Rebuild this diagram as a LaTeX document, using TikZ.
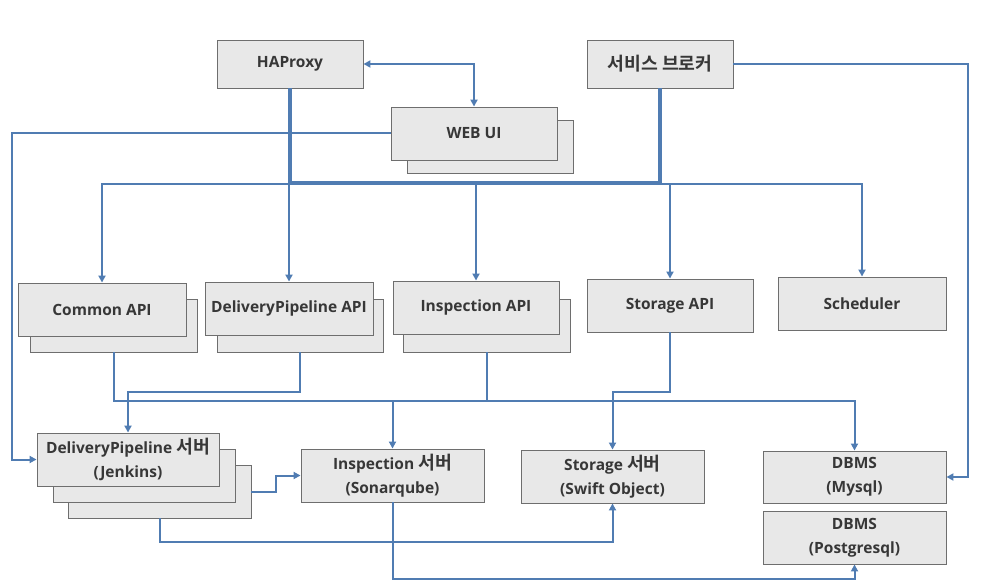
\documentclass[tikz,border=0pt]{standalone}
\usepackage{fontspec}
\setmainfont{Open Sans}
\newfontfamily\kr{Noto Sans CJK KR}[Scale=1.18, BoldFont={Noto Sans CJK KR Bold}]
\usetikzlibrary{arrows.meta}
\definecolor{lineblue}{RGB}{80,124,178}
\definecolor{boxgray}{RGB}{232,232,232}
\definecolor{edgegray}{RGB}{110,110,110}
\definecolor{textgray}{RGB}{55,55,55}

\begin{document}
\begin{tikzpicture}[x=1pt, y=-1pt]
\tikzstyle{every node} = [rectangle, draw=edgegray, fill=boxgray, line width=0.9pt, inner sep=0pt, minimum height=53pt, text=textgray, font=\fontsize{15.5}{24}\selectfont\bfseries, align=center]
\tikzstyle{link} = [draw=lineblue, line width=2pt, -{Triangle[length=7pt,width=7pt]}]
\tikzstyle{trunk} = [draw=lineblue, line width=3.8pt]
\useasboundingbox (0,0) rectangle (986,583);
% top row
\node[minimum width=146pt, minimum height=48pt] (hap) at (290,64) {HAProxy};
\node[minimum width=146pt, minimum height=48pt] (brk) at (660,64) {{\kr 서비스 브로커}};
\node[minimum width=166pt] (webB) at (490,146.5) {};
\node[minimum width=166pt] (web) at (474,133.5) {WEB UI};
% api row
\node[minimum width=167pt] (comB) at (113.5,325.5) {};
\node[minimum width=168pt] (com) at (102,309.5) {Common API};
\node[minimum width=166pt] (dpaB) at (300,325.5) {};
\node[minimum width=168pt] (dpa) at (289,308.5) {DeliveryPipeline API};
\node[minimum width=167pt] (insaB) at (486.5,325.5) {};
\node[minimum width=166pt] (insa) at (476,307.5) {Inspection API};
\node[minimum width=166pt] (sto) at (670,305.5) {Storage API};
\node[minimum width=168pt] (sch) at (862,303.5) {Scheduler};
% server row
\node[minimum width=183pt] (dpsC) at (159.5,491.5) {};
\node[minimum width=182pt] (dpsB) at (144,475.5) {};
\node[minimum width=182pt] (dps) at (128,459.5) {DeliveryPipeline {\kr 서버}\\(Jenkins)};
\node[minimum width=183pt] (ins) at (392.5,475.5) {Inspection {\kr 서버}\\(Sonarqube)};
\node[minimum width=183pt] (sts) at (612.5,476.5) {Storage {\kr 서버}\\(Swift Object)};
\node[minimum width=183pt, minimum height=52pt] (mys) at (854.5,477) {DBMS\\(Mysql)};
\node[minimum width=183pt] (pg) at (854.5,537.5) {DBMS\\(Postgresql)};
% bus
\coordinate (busL) at (290,183);
\coordinate (busR) at (660,183);
\coordinate (bus) at (476,184);
\coordinate (lft) at (12,133.5);
\coordinate (rgt) at (968,64);
\draw[link] (bus) -| (com.north);
\draw[link] (bus) -| (dpa.north);
\draw[link] (bus) -- (insa.north);
\draw[link] (bus) -| (sto.north);
\draw[link] (bus) -| (sch.north);
\draw[trunk] (hap.south) -- (busL) -- (busR) -- (brk.south);
\draw[link, {Triangle[length=7pt,width=7pt]}-{Triangle[length=7pt,width=7pt]}] (hap.east) -| (web.north);
\draw[link] (web.west) -- (lft) |- (dps.west);
\draw[link] (brk.east) -- (rgt) |- (mys.east);
% lower links
\draw[link] (comB.south) -- ++(0,49) -| (mys.north);
\draw[link] (insaB.south) -- ++(0,49) -| (ins.north);
\draw[link] (dpaB.south) -- ++(0,40) -| (dps.north);
\draw[link] (sto.south) -- ++(0,60) -| (sts.north);
\draw[link] (dpsC.east) -- ++(25,0) |- (ins.west);
\draw[link] (dpsC.south) -- ++(0,24) -| (sts.south);
\draw[link] (ins.south) -- ++(0,77) -| (pg.south);
\end{tikzpicture}
\end{document}
